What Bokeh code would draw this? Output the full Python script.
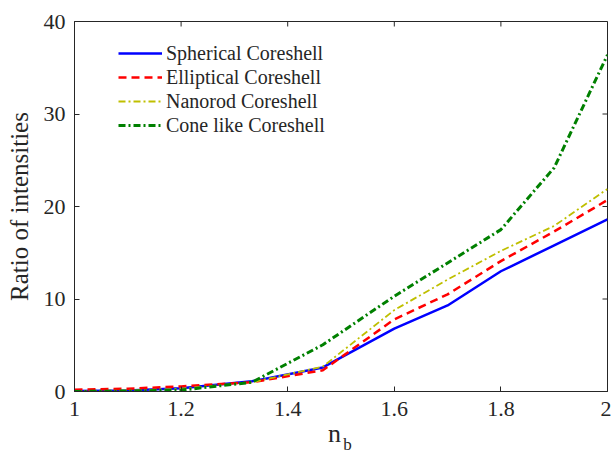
from bokeh.plotting import figure
from bokeh.models import Range1d, FixedTicker, Legend, LegendItem, LinearAxis
from bokeh.embed import file_html
from bokeh.resources import INLINE

n_b = [1.0, 1.1, 1.2, 1.333, 1.466, 1.6, 1.7, 1.8, 1.9, 2.0]
spherical = [0.05, 0.1, 0.35, 1.1, 2.6, 6.8, 9.3, 13.0, 15.8, 18.6]
elliptical = [0.2, 0.3, 0.55, 1.0, 2.3, 7.8, 10.5, 14.1, 17.3, 20.7]
nanorod = [0.05, 0.1, 0.3, 1.0, 2.7, 8.8, 12.1, 15.2, 17.9, 21.9]
cone = [0.0, 0.05, 0.15, 1.0, 5.05, 10.3, 13.9, 17.5, 24.2, 36.4]
labels = ["Spherical Coreshell", "Elliptical Coreshell", "Nanorod Coreshell", "Cone like Coreshell"]
x_ticks = [1.0, 1.2, 1.4, 1.6, 1.8, 2.0]
y_ticks = [0, 10, 20, 30, 40]

FONT = "Liberation Serif"
AX = "#262626"
FRAME_W, FRAME_H = 533, 370
TICK = 5

p = figure(width=611, height=457, output_backend="svg", toolbar_location=None,
           x_range=Range1d(1, 2), y_range=Range1d(0, 40),
           min_border_left=74, min_border_right=4, min_border_top=21, min_border_bottom=66)
p.background_fill_color = "white"
p.border_fill_color = "white"
p.outline_line_color = AX
p.outline_line_width = 1
p.grid.visible = False

for ax in (p.xaxis[0], p.yaxis[0]):
    ax.axis_line_color = AX
    ax.major_tick_line_color = AX
    ax.minor_tick_line_color = None
    ax.major_tick_in = TICK
    ax.major_tick_out = 0
    ax.major_label_text_font = FONT
    ax.major_label_text_font_size = "22px"
    ax.major_label_text_color = AX
p.xaxis.major_label_standoff = 10
p.yaxis.major_label_standoff = 9

p.xaxis.ticker = FixedTicker(ticks=x_ticks)
p.yaxis.ticker = FixedTicker(ticks=y_ticks)
p.xaxis.major_label_overrides = {1.0: "1", 2.0: "2"}
p.yaxis.axis_label = "Ratio of intensities"
p.yaxis.axis_label_text_font = FONT
p.yaxis.axis_label_text_font_size = "25px"
p.yaxis.axis_label_text_font_style = "normal"
p.yaxis.axis_label_text_color = AX
p.yaxis.axis_label_standoff = 8

# x label "n" with subscript "b"
p.xaxis.axis_label = "n\u00a0\u00a0"
p.xaxis.axis_label_text_font = FONT
p.xaxis.axis_label_text_font_size = "26px"
p.xaxis.axis_label_text_font_style = "normal"
p.xaxis.axis_label_text_color = AX
p.xaxis.axis_label_standoff = 0

sub = LinearAxis(ticker=FixedTicker(ticks=[]), axis_line_color=None,
                 major_tick_line_color=None, minor_tick_line_color=None,
                 axis_label="\u00a0\u00a0\u00a0b", axis_label_text_font=FONT,
                 axis_label_text_font_size="17px", axis_label_text_font_style="normal",
                 axis_label_text_color=AX, axis_label_standoff=-16)
p.add_layout(sub, "below")

# mirrored inward ticks on the top and right edges of the box
dy = TICK * 40 / FRAME_H
dx = TICK * 1.0 / FRAME_W
p.segment(x0=x_ticks, y0=[40] * len(x_ticks), x1=x_ticks, y1=[40 - dy] * len(x_ticks),
          line_color=AX, line_width=1)
p.segment(x0=[2] * len(y_ticks), y0=y_ticks, x1=[2 - dx] * len(y_ticks), y1=y_ticks,
          line_color=AX, line_width=1)

r1 = p.line(n_b, spherical, line_color="#0000ff", line_width=2.5)
r2 = p.line(n_b, elliptical, line_color="#ff0000", line_width=2.5, line_dash="8 5")
r3 = p.line(n_b, nanorod, line_color="#bfbf00", line_width=1.8, line_dash="7 3 2 3")
r4 = p.line(n_b, cone, line_color="#008000", line_width=3, line_dash="7 3 2 3")

legend = Legend(items=[LegendItem(label=l, renderers=[r]) for l, r in zip(labels, [r1, r2, r3, r4])],
                location=(44, 254), padding=0, margin=0, spacing=0,
                glyph_width=44, glyph_height=24, label_height=24, label_standoff=4,
                label_text_font=FONT, label_text_font_size="20px", label_text_color=AX,
                border_line_color=None, background_fill_alpha=0)
p.add_layout(legend, "center")

open("out.html", "w").write(file_html(p, INLINE))
